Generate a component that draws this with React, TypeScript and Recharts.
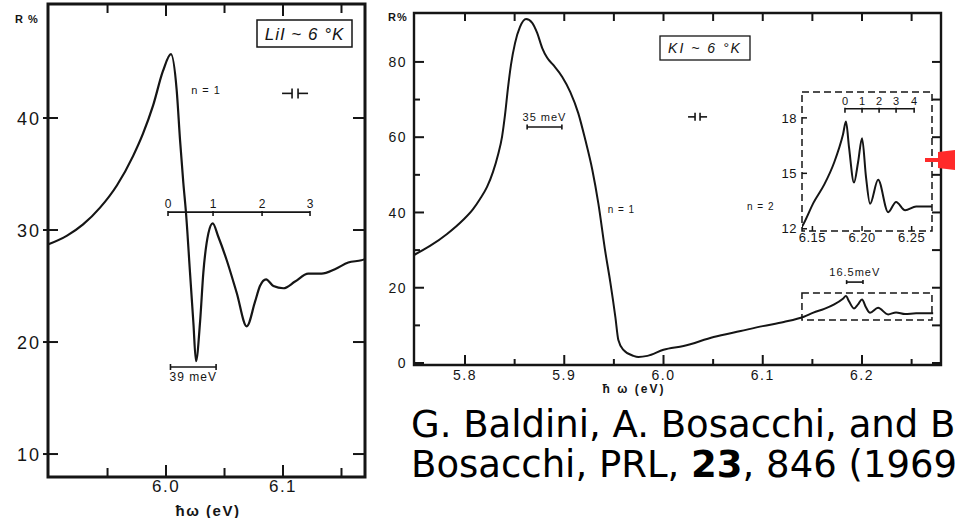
import React from 'react';
import {
  LineChart,
  Line,
  XAxis,
  YAxis,
  ReferenceLine,
  ReferenceDot,
  ReferenceArea,
} from 'recharts';

// ---------- LiI reflectance, ~6 K (photon energy in eV, R in %) ----------
const liiEnergy = [
  5.899, 5.9154, 5.9291, 5.9436, 5.9581, 5.9718, 5.9803, 5.9889, 5.9974, 6.0042,
  6.0091, 6.012, 6.0148, 6.0171, 6.0205, 6.0234, 6.0256, 6.0291, 6.0319, 6.0362,
  6.0399, 6.0447, 6.0519, 6.0604, 6.069, 6.0761, 6.0803, 6.0855, 6.0918, 6.1003,
  6.1103, 6.1216, 6.133, 6.1444, 6.1558, 6.167, 6.1701,
];
const liiReflectance = [
  28.7, 29.5, 30.5, 32.0, 34.0, 36.6, 38.6, 41.1, 44.2, 45.7,
  42.5, 38.0, 34.2, 31.5, 26.2, 21.7, 18.3, 21.8, 26.2, 29.7,
  30.6, 29.4, 27.3, 24.4, 21.4, 23.6, 25.0, 25.6, 25.0, 24.8,
  25.4, 26.1, 26.1, 26.5, 27.1, 27.3, 27.4,
];
// phonon ladder above the LiI n = 1 structure
const liiLadderEnergy = [6.0017, 6.0402, 6.0821, 6.1231];
const liiLadderLabels = ['0', '1', '2', '3'];

// ---------- KI reflectance, ~6 K ----------
const kiEnergy = [
  5.7486, 5.7647, 5.7819, 5.798, 5.8081, 5.8151, 5.8222, 5.8282, 5.8332, 5.8373,
  5.8403, 5.8433, 5.8463, 5.8504, 5.8554, 5.8615, 5.8677, 5.8727, 5.8778, 5.8828,
  5.8889, 5.898, 5.9061, 5.9141, 5.9212, 5.9283, 5.9343, 5.9414, 5.9465, 5.9515,
  5.9545, 5.9596, 5.9697, 5.9747, 5.9838, 6.0, 6.0202, 6.0505, 6.0778, 6.1,
  6.1212, 6.1414, 6.151, 6.162, 6.172, 6.1808, 6.1838, 6.1869, 6.1919, 6.196,
  6.2, 6.204, 6.2081, 6.2162, 6.2263, 6.2343, 6.2434, 6.2545, 6.2717,
];
const kiReflectance = [
  28.7, 31.1, 34.3, 38.0, 40.9, 43.6, 46.8, 50.8, 55.3, 60.1,
  65.9, 73.1, 79.2, 85.0, 89.3, 91.4, 90.4, 87.7, 83.7, 81.1,
  79.2, 76.0, 72.0, 66.4, 59.3, 51.3, 42.5, 29.5, 21.3, 12.2,
  6.1, 3.5, 1.9, 1.6, 1.9, 3.5, 4.5, 6.9, 8.5, 9.8,
  10.9, 12.3, 13.4, 14.4, 15.6, 17.1, 17.8, 16.4, 14.5, 15.6,
  16.9, 14.8, 13.35, 14.65, 12.9, 13.45, 13.0, 13.2, 13.2,
];
const kiLadderEnergy = [6.1828, 6.2, 6.2172, 6.2343, 6.2525];
const kiLadderLabels = ['0', '1', '2', '3', '4'];

// ---------- axis ticks ----------
const liiTicksX = [5.95, 6.0, 6.05, 6.1, 6.15];
const liiMajorX = [6.0, 6.1];
const liiTicksY = [10, 20, 30, 40];

const kiTicksX = [5.8, 5.85, 5.9, 5.95, 6.0, 6.05, 6.1, 6.15, 6.2, 6.25];
const kiMajorX = [5.8, 5.9, 6.0, 6.1, 6.2];
const kiTicksY = [0, 10, 20, 30, 40, 50, 60, 70, 80];
const kiMajorY = [0, 20, 40, 60, 80];

const insetTicksX = [6.15, 6.2, 6.25];
const insetTicksY = [12, 15, 18];

const liiRows = liiEnergy.map((e, i) => ({ e, r: liiReflectance[i] }));
const kiRows = kiEnergy.map((e, i) => ({ e, r: kiReflectance[i] }));

const INK = '#151515';
const SANS = '"Liberation Sans", Arial, sans-serif';

type TickOpts = {
  majors: number[];
  majorLen: number;
  minorLen: number;
  outLen?: number;
  gap: number;
  size: number;
  digits: number;
  spacing?: number;
  width?: number;
  // matching tick on the opposite side of the frame
  farAt?: number;
  farMajorLen?: number;
  farMinorLen?: number;
};

const isIn = (list: number[], v: number) => list.some((m) => Math.abs(m - v) < 1e-6);

// numeric label under the bottom axis (the tick marks themselves are drawn as reference marks)
const bottomLabel = (o: TickOpts) => (p: any) => {
  const v = p.payload.value as number;
  if (!isIn(o.majors, v)) return <g />;
  return (
    <text x={p.x} y={p.y + o.size * 0.72} textAnchor="middle" fontSize={o.size} fontFamily={SANS} fill={INK} letterSpacing={o.spacing ?? 0}>
      {v.toFixed(o.digits)}
    </text>
  );
};

// tick on the left axis plus its twin on the right edge
const leftTick = (o: TickOpts) => (p: any) => {
  const v = p.payload.value as number;
  const major = isIn(o.majors, v);
  const x0 = p.x + o.gap;
  const sw = o.width ?? 2;
  return (
    <g>
      <line x1={x0 - (o.outLen ?? 0)} x2={x0 + (major ? o.majorLen : o.minorLen)} y1={p.y} y2={p.y} stroke={INK} strokeWidth={sw} />
      {o.farAt !== undefined && (
        <line x1={o.farAt} x2={o.farAt - (major ? o.farMajorLen ?? 0 : o.farMinorLen ?? 0)} y1={p.y} y2={p.y} stroke={INK} strokeWidth={sw} />
      )}
      {major && (
        <text x={p.x} y={p.y + o.size * 0.36} textAnchor="end" fontSize={o.size} fontFamily={SANS} fill={INK} letterSpacing={o.spacing ?? 0}>
          {v.toFixed(o.digits)}
        </text>
      )}
    </g>
  );
};

// vertical tick mark hanging from a frame edge (dir -1 = upward, 1 = downward)
const vTick = (len: number, dir: number, sw = 2) => (p: any) => (
  <line x1={p.cx} x2={p.cx} y1={p.cy} y2={p.cy + dir * len} stroke={INK} strokeWidth={sw} />
);

// x tick marks along bottom and top frame edges
const xTickMarks = (
  key: string,
  ticks: number[],
  majors: number[],
  yd: [number, number],
  bottom: [number, number],
  top: [number, number] | null,
  sw = 2,
) => {
  const out: React.ReactNode[] = [];
  ticks.forEach((v, i) => {
    const major = isIn(majors, v);
    out.push(
      <ReferenceDot key={`${key}b${i}`} x={v} y={yd[0]} r={0} ifOverflow="visible" shape={vTick(major ? bottom[0] : bottom[1], -1, sw)} />,
    );
    if (top) {
      out.push(
        <ReferenceDot key={`${key}t${i}`} x={v} y={yd[1]} r={0} ifOverflow="visible" shape={vTick(major ? top[0] : top[1], 1, sw)} />,
      );
    }
  });
  return out;
};

// small text anchored at a data point
const textMark = (label: string, size: number, spacing = 1) => (p: any) => (
  <text x={p.cx} y={p.cy + size * 0.36} textAnchor="middle" fontSize={size} fontFamily={SANS} fill={INK} letterSpacing={spacing}>
    {label}
  </text>
);

// spectral slit-width symbol  -| |-
const slitMark = (arm: number, gap: number, half: number) => (p: any) => (
  <g stroke={INK} strokeWidth={1.6} fill="none">
    <line x1={p.cx - gap / 2 - arm} x2={p.cx - gap / 2} y1={p.cy} y2={p.cy} />
    <line x1={p.cx - gap / 2} x2={p.cx - gap / 2} y1={p.cy - half} y2={p.cy + half} />
    <line x1={p.cx + gap / 2} x2={p.cx + gap / 2} y1={p.cy - half} y2={p.cy + half} />
    <line x1={p.cx + gap / 2} x2={p.cx + gap / 2 + arm} y1={p.cy} y2={p.cy} />
  </g>
);

// energy scale bar with end caps and a caption
const scaleBar = (label: string, size: number, labelDy: number, cap: number) => (p: any) => {
  const x1 = Number(p.x1);
  const x2 = Number(p.x2);
  const y = Number(p.y1);
  return (
    <g>
      <g stroke={INK} strokeWidth={1.6}>
        <line x1={x1} x2={x2} y1={y} y2={y} />
        <line x1={x1} x2={x1} y1={y - cap} y2={y + cap} />
        <line x1={x2} x2={x2} y1={y - cap} y2={y + cap} />
      </g>
      <text x={(x1 + x2) / 2} y={y + labelDy} textAnchor="middle" fontSize={size} fontFamily={SANS} fill={INK} letterSpacing={1}>
        {label}
      </text>
    </g>
  );
};

const plainLine = (p: any) => (
  <line x1={p.x1} x2={p.x2} y1={p.y1} y2={p.y2} stroke={INK} strokeWidth={1.6} />
);

// ladder tick with its index written above
const ladderMark = (label: string, size: number, lift: number) => (p: any) => (
  <g>
    <line x1={p.cx} x2={p.cx} y1={p.cy - 1} y2={p.cy + 4} stroke={INK} strokeWidth={1.6} />
    <text x={p.cx} y={p.cy - lift} textAnchor="middle" fontSize={size} fontFamily={SANS} fill={INK}>
      {label}
    </text>
  </g>
);

const W = 955;
const H = 518;
const layer: React.CSSProperties = { position: 'absolute', left: 0, top: 0 };

// plot rectangles, in page pixels
const LII_BOX = { left: 48, top: 4, right: 365, bottom: 477 };
const KI_BOX = { left: 414, top: 13, right: 941, bottom: 365 };
const INSET_BOX = { left: 802, top: 92, right: 932, bottom: 231 };

// every axis box is 1 px thick, so margins stop 1 px short of the plot edges
const marginFor = (b: { left: number; top: number; right: number; bottom: number }) => ({
  top: b.top,
  right: W - b.right,
  bottom: H - b.bottom - 1,
  left: b.left - 1,
});

function LiIPanel() {
  const xd: [number, number] = [5.8991, 6.1701];
  const yd: [number, number] = [7.95, 50.18];
  const ladderY = 31.6;
  return (
    <LineChart width={W} height={H} data={liiRows} margin={marginFor(LII_BOX)}>
      <XAxis dataKey="e" type="number" domain={xd} allowDataOverflow ticks={liiTicksX} interval={0} height={1}
        tickSize={0} tickMargin={3} tickLine={false} axisLine={false}
        tick={bottomLabel({ majors: liiMajorX, majorLen: 0, minorLen: 0, gap: 3, size: 17, digits: 1, spacing: 1.5 })} />
      <YAxis type="number" domain={yd} allowDataOverflow ticks={liiTicksY} interval={0} width={1}
        tickSize={0} tickMargin={7} tickLine={false} axisLine={false}
        tick={leftTick({ majors: liiTicksY, majorLen: 10, minorLen: 10, outLen: 5, gap: 7, size: 18, digits: 0, spacing: 2,
          farAt: LII_BOX.right, farMajorLen: 12, farMinorLen: 12 })} />

      <ReferenceArea x1={xd[0]} x2={xd[1]} y1={yd[0]} y2={yd[1]} fill="none" stroke={INK} strokeWidth={3} ifOverflow="visible" />
      {xTickMarks('lii', liiTicksX, liiMajorX, yd, [12, 9], [12, 9])}

      <ReferenceLine segment={[{ x: liiLadderEnergy[0], y: ladderY }, { x: liiLadderEnergy[liiLadderEnergy.length - 1], y: ladderY }]}
        shape={plainLine} ifOverflow="visible" />
      {liiLadderEnergy.map((e, i) => (
        <ReferenceDot key={`l${i}`} x={e} y={ladderY} r={0} ifOverflow="visible" shape={ladderMark(liiLadderLabels[i], 12, 4)} />
      ))}
      <ReferenceLine segment={[{ x: 6.0038, y: 17.77 }, { x: 6.0038 + 0.039, y: 17.77 }]}
        shape={scaleBar('39 meV', 12, 14, 3)} ifOverflow="visible" />
      <ReferenceDot x={6.0342} y={42.5} r={0} ifOverflow="visible" shape={textMark('n = 1', 11, 1)} />
      <ReferenceDot x={6.1103} y={42.2} r={0} ifOverflow="visible" shape={slitMark(10, 6, 5)} />

      <Line dataKey="r" type="monotone" dot={false} stroke={INK} strokeWidth={2.2} strokeLinejoin="round" isAnimationActive={false} />
    </LineChart>
  );
}

function KIPanel() {
  const xd: [number, number] = [5.7486, 6.2796];
  const yd: [number, number] = [-0.53, 93.0];
  return (
    <LineChart width={W} height={H} data={kiRows} margin={marginFor(KI_BOX)}>
      <XAxis dataKey="e" type="number" domain={xd} allowDataOverflow ticks={kiTicksX} interval={0} height={1}
        tickSize={0} tickMargin={5} tickLine={false} axisLine={false}
        tick={bottomLabel({ majors: kiMajorX, majorLen: 0, minorLen: 0, gap: 5, size: 14, digits: 1, spacing: 1.5 })} />
      <YAxis type="number" domain={yd} allowDataOverflow ticks={kiTicksY} interval={0} width={1}
        tickSize={0} tickMargin={7} tickLine={false} axisLine={false}
        tick={leftTick({ majors: kiMajorY, majorLen: 10, minorLen: 6, outLen: 0, gap: 7, size: 14, digits: 0, spacing: 1.5,
          farAt: KI_BOX.right, farMajorLen: 9, farMinorLen: 9 })} />

      <ReferenceArea x1={xd[0]} x2={xd[1]} y1={yd[0]} y2={yd[1]} fill="none" stroke={INK} strokeWidth={2.4} ifOverflow="visible" />
      {xTickMarks('ki', kiTicksX, kiMajorX, yd, [10, 6], [8, 8])}

      <ReferenceArea x1={6.1395} x2={6.2705} y1={11.43} y2={18.6} fill="none" stroke={INK} strokeWidth={1.5} strokeDasharray="7 4" ifOverflow="visible" />
      <ReferenceLine segment={[{ x: 5.8626, y: 62.7 }, { x: 5.8626 + 0.035, y: 62.7 }]}
        shape={scaleBar('35 meV', 11, -6, 2.5)} ifOverflow="visible" />
      <ReferenceLine segment={[{ x: 6.1845, y: 21.5 }, { x: 6.1845 + 0.0165, y: 21.5 }]}
        shape={scaleBar('16.5meV', 11, -6, 2)} ifOverflow="visible" />
      <ReferenceDot x={5.9576} y={40.7} r={0} ifOverflow="visible" shape={textMark('n = 1', 10, 1)} />
      <ReferenceDot x={6.098} y={41.5} r={0} ifOverflow="visible" shape={textMark('n = 2', 10, 1)} />
      <ReferenceDot x={6.0343} y={65.4} r={0} ifOverflow="visible" shape={slitMark(7, 5, 4)} />

      <Line dataKey="r" type="monotone" dot={false} stroke={INK} strokeWidth={2} strokeLinejoin="round" isAnimationActive={false} />
    </LineChart>
  );
}

function KIInset() {
  const xd: [number, number] = [6.1395, 6.2705];
  const yd: [number, number] = [11.88, 19.4];
  const ladderY = 18.49;
  return (
    <LineChart width={W} height={H} data={kiRows} margin={marginFor(INSET_BOX)}>
      <XAxis dataKey="e" type="number" domain={xd} allowDataOverflow ticks={insetTicksX} interval={0} height={1}
        tickSize={0} tickMargin={2} tickLine={false} axisLine={false}
        tick={bottomLabel({ majors: insetTicksX, majorLen: 0, minorLen: 0, gap: 2, size: 13, digits: 2, spacing: 0.5 })} />
      <YAxis type="number" domain={yd} allowDataOverflow ticks={insetTicksY} interval={0} width={1}
        tickSize={0} tickMargin={5} tickLine={false} axisLine={false}
        tick={leftTick({ majors: insetTicksY, majorLen: 5, minorLen: 5, outLen: 0, gap: 5, size: 13, digits: 0, spacing: 0.5, width: 1.5 })} />

      <ReferenceArea x1={xd[0]} x2={xd[1]} y1={yd[0]} y2={yd[1]} fill="none" stroke={INK} strokeWidth={1.5} strokeDasharray="7 4" ifOverflow="visible" />
      {xTickMarks('in', insetTicksX, insetTicksX, yd, [5, 5], null, 1.5)}
      <ReferenceLine segment={[{ x: kiLadderEnergy[0], y: ladderY }, { x: kiLadderEnergy[kiLadderEnergy.length - 1], y: ladderY }]}
        shape={plainLine} ifOverflow="visible" />
      {kiLadderEnergy.map((e, i) => (
        <ReferenceDot key={`k${i}`} x={e} y={ladderY} r={0} ifOverflow="visible" shape={ladderMark(kiLadderLabels[i], 11, 4)} />
      ))}

      <Line dataKey="r" type="monotone" dot={false} stroke={INK} strokeWidth={2} strokeLinejoin="round" isAnimationActive={false} />
    </LineChart>
  );
}

function Annotations() {
  return (
    <svg width={W} height={H} style={layer}>
      <g fontFamily={SANS} fill={INK}>
        <text x={15} y={23} fontSize={11} fontWeight="bold" letterSpacing={1}>R %</text>
        <rect x={257} y={20} width={95} height={27} fill="none" stroke={INK} strokeWidth={1.5} />
        <text x={304.5} y={40} textAnchor="middle" fontStyle="italic" fontSize={17} letterSpacing={1}>LiI ~ 6 °K</text>
        <text x={208} y={516} textAnchor="middle" fontSize={15} fontWeight="bold" letterSpacing={1.5}>ħω (eV)</text>

        <text x={388} y={21} fontSize={11} fontWeight="bold" letterSpacing={1}>R%</text>
        <rect x={660} y={36} width={90} height={24} fill="none" stroke={INK} strokeWidth={1.3} />
        <text x={705} y={53} textAnchor="middle" fontStyle="italic" fontSize={14} letterSpacing={2}>KI ~ 6 °K</text>
        <text x={634} y={393} textAnchor="middle" fontSize={12} fontWeight="bold" letterSpacing={2}>ħ ω (eV)</text>
      </g>

      <g fill="#ff2a2a">
        <rect x={925} y={158} width={14} height={4} />
        <polygon points="938,152 955,150 955,170 938,168" />
      </g>

      <g fontFamily='"DejaVu Sans", sans-serif' fontSize={37} fill="#000">
        <text x={411} y={437}>G. Baldini, A. Bosacchi, and B.</text>
        <text x={411} y={477}>
          Bosacchi, PRL, <tspan fontWeight="bold">23</tspan>, 846 (1969).
        </text>
      </g>
    </svg>
  );
}

export default function App() {
  return (
    <div style={{ position: 'absolute', left: 0, top: 0, width: W, height: H, overflow: 'hidden', background: '#fff' }}>
      <div style={layer}><LiIPanel /></div>
      <div style={layer}><KIPanel /></div>
      <div style={layer}><KIInset /></div>
      <Annotations />
    </div>
  );
}
